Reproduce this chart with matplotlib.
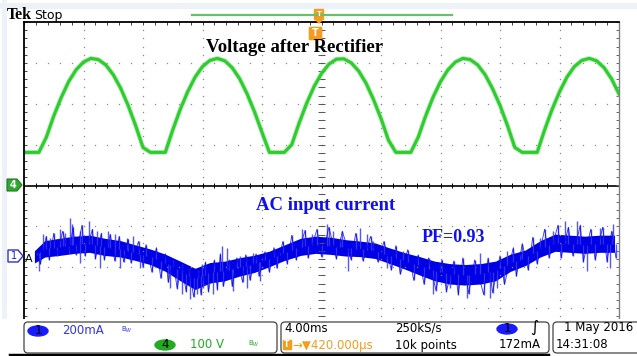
import numpy as np
import matplotlib.pyplot as plt
from matplotlib.patches import FancyBboxPatch, Rectangle, Polygon, Ellipse

# Scope settings: 10 x 8 divisions, 4 ms/div, ch1 200 mA/div, ch4 100 V/div
ms_per_div = 4.0
v_per_div = 100.0
ma_per_div = 200.0
ch4_pos = 0.0     # divisions
ch1_pos = -1.72   # divisions

# Ch4: voltage after the rectifier, one sample every 0.5 ms
v_t = np.arange(-20.0, 20.01, 0.5)
v_volts = [81, 81, 81, 118, 170, 215, 254, 283, 302, 311, 308, 295, 271, 238, 196, 147, 93, 81,
           81, 81, 136, 186, 229, 265, 291, 306, 311, 305, 288, 261, 224, 180, 130, 81,
           81, 81, 100, 153, 201, 242, 274, 297, 309, 310, 300, 280, 250, 210, 164, 111, 81,
           81, 81, 118, 170, 216, 254, 283, 302, 311, 308, 295, 271, 237, 196, 147, 93, 81,
           81, 81, 136, 186, 229, 265, 291, 306, 311, 305, 288, 261, 224]

# Ch1: AC input current, dense band (mid value and half width) in mA
cur_t = [-19.3, -18.6, -17.6, -16.6, -15.6, -14.6, -13.5, -12.5, -11.5, -10.5,
         -9.5, -8.5, -7.5, -6.5, -5.5, -4.5, -3.5, -2.5, -1.4, -0.4,
         0.6, 1.6, 2.6, 3.6, 4.6, 5.6, 6.6, 7.6, 8.6, 9.6,
         10.7, 11.7, 12.7, 13.7, 14.7, 15.7, 16.7, 17.7, 18.7, 19.7]
cur_mid = [-5, 34, 44, 54, 59, 44, 34, 15, -5, -34,
           -74, -113, -83, -74, -54, -39, -15, 15, 44, 54,
           49, 39, 34, 25, 0, -25, -49, -74, -88, -93,
           -88, -74, -34, -10, 34, 64, 59, 54, 59, 59]
cur_half = [30, 40, 42, 42, 42, 42, 40, 38, 38, 42,
            48, 52, 50, 48, 45, 42, 38, 38, 42, 42,
            42, 40, 38, 38, 38, 40, 45, 48, 50, 50,
            50, 48, 42, 38, 40, 42, 42, 42, 42, 42]

# Ch1 large noise spikes: (time ms, peak mA)
spike_up_t = [-18.72, -18.25, -17.58, -17.24, -16.91, -16.77, -16.24, -15.63, -15.09, -14.35,
              -13.88, -13.08, -12.67, -8.03, -6.69, -6.35, -5.48, -4.60, -2.79, -1.31,
              -0.64, 0.37, 0.77, 1.24, 2.59, 3.06, 3.46, 5.48, 7.97, 10.66,
              12.47, 13.35, 14.69, 15.56, 16.37, 17.18, 18.72, 19.60]
spike_up_ma = [108, 88, 132, 113, 186, 157, 123, 172, 123, 123,
               108, 88, 98, -39, 49, 39, 0, 15, 15, 132,
               108, 157, 123, 88, 137, 108, 74, 25, -39, 15,
               25, 10, 88, 123, 172, 172, 137, 157]
spike_dn_t = [-18.99, -16.24, -14.89, -13.55, -12.20, -10.18, -9.38, -8.84, -8.37, -7.97,
              -7.30, -5.95, -5.01, -4.13, 1.78, 4.40, 7.50, 8.64, 9.78, 11.33,
              11.80, 17.85, 19.40]
spike_dn_ma = [-74, -34, -59, -59, -59, -157, -186, -211, -186, -157,
               -186, -172, -157, -123, -74, -59, -186, -157, -206, -206,
               -157, -74, -59]

# Ch1 smaller excursions around the band
fuzz_t = [-19.1, -18.9, -18.5, -18.3, -18.0, -17.8, -17.4, -17.0, -16.7, -16.5,
          -16.1, -15.9, -15.4, -15.2, -14.8, -14.6, -14.2, -13.9, -13.6, -13.3,
          -13.0, -12.8, -12.3, -12.0, -11.8, -11.4, -11.1, -10.8, -10.5, -10.3,
          -10.0, -9.7, -9.4, -9.1, -8.9, -8.6, -8.3, -8.1, -7.8, -7.6,
          -7.2, -7.0, -6.8, -6.6, -6.2, -6.0, -5.7, -5.3, -5.1, -4.8,
          -4.4, -4.2, -3.8, -3.5, -3.2, -3.0, -2.6, -2.3, -2.0, -1.7,
          -1.1, -0.9, -0.3, 0.0, 0.5, 1.0, 1.4, 2.0, 2.3, 2.8,
          3.3, 3.8, 4.2, 4.7, 5.0, 5.3, 5.8, 6.2, 6.5, 6.9,
          7.2, 7.7, 8.1, 8.4, 8.9, 9.2, 9.5, 9.9, 10.3, 10.9,
          11.2, 11.5, 12.0, 12.3, 12.9, 13.1, 13.5, 13.9, 14.2, 14.5,
          15.0, 15.3, 15.9, 16.1, 16.6, 16.9, 17.4, 17.6, 18.1, 18.4,
          18.9, 19.2, 19.5, 19.8]
fuzz_ma = [20, -40, 95, -20, 110, 0, 120, 10, 140, 5,
           150, 0, 130, -15, 110, -20, 105, -25, 95, -30,
           80, -35, 70, -55, 55, -80, 40, -110, 10, -130,
           -20, -160, -40, -175, -60, -200, -70, -190, -30, -175,
           -20, -165, 10, -150, -20, -150, -10, -130, 5, -120,
           10, -100, 20, -80, 40, -60, 70, -40, 100, -20,
           125, -10, 130, -5, 140, -15, 120, -20, 110, -25,
           95, -30, 70, -70, 50, -90, 30, -120, 5, -140,
           -10, -170, -20, -175, -25, -190, -10, -185, -20, -190,
           -10, -180, 0, -140, 40, -100, 60, -70, 90, -40,
           130, -10, 150, -10, 140, 0, 150, -30, 130, -20,
           140, -30, 120, -10]

green = "#2ecc2e"
blue = "#0000e6"
spike_blue = "#3a3af5"

W, H = 637, 356
fig = plt.figure(figsize=(W / 100, H / 100), dpi=100)
fig.patch.set_facecolor("white")

# graticule area in pixels: x 24..619, y 22..349
x0, x1, y0, y1 = 24, 619, 22, 349
ax = fig.add_axes([x0 / W, 1 - y1 / H, (x1 - x0) / W, (y1 - y0) / H])
ax.set_xlim(-5 * ms_per_div, 5 * ms_per_div)
ax.set_ylim(-4, 4)
ax.set_xticks([])
ax.set_yticks([])
for side in ["left", "top"]:
    ax.spines[side].set_color("black")
    ax.spines[side].set_linewidth(1.3)
ax.spines["right"].set_color("#808080")
ax.spines["right"].set_linewidth(1.0)
ax.spines["bottom"].set_visible(False)

dot = dict(ls="none", marker="s", ms=0.9, mew=0, color="#8a8a8a")
minor_x = np.arange(-20, 20.01, 0.8)
minor_y = np.arange(-4, 4.01, 0.2)
for k in range(-4, 5):
    ax.plot(np.full(minor_y.size, k * ms_per_div), minor_y, **dot)
for k in [-3, -2, -1, 1, 2, 3]:
    ax.plot(minor_x, np.full(minor_x.size, k), **dot)

# centre line and tick marks
ax.axhline(0, color="black", lw=1.2)
ax.vlines(minor_x, -0.07, 0.07, color="black", lw=0.7)
ax.hlines(minor_y, -0.22, 0.22, color="#555555", lw=0.7)
ax.vlines(minor_x, 4 - 0.08, 4, color="#444444", lw=0.7)
ax.hlines(minor_y, -20, -20 + 0.22, color="#444444", lw=0.7)
ax.hlines(minor_y, 20 - 0.22, 20, color="#666666", lw=0.7)

# ch4 trace
v_div = np.array(v_volts) / v_per_div + ch4_pos
ax.plot(v_t, v_div, color="#7ee07e", lw=3.4, alpha=0.6, solid_joinstyle="round")
ax.plot(v_t, v_div, color=green, lw=2.2, solid_joinstyle="round")

# ch1 trace: band, excursions from the band centre, and the zigzag between them
mid = np.array(cur_mid) / ma_per_div + ch1_pos
half = np.array(cur_half) / ma_per_div
ax.fill_between(cur_t, mid - half, mid + half, color=blue, lw=0)
for ts, vals in [(spike_up_t, spike_up_ma), (spike_dn_t, spike_dn_ma), (fuzz_t, fuzz_ma)]:
    base = np.interp(ts, cur_t, mid)
    ax.vlines(ts, base, np.array(vals) / ma_per_div + ch1_pos, color=spike_blue, lw=1.0, alpha=0.85)
ax.plot(fuzz_t, np.array(fuzz_ma) / ma_per_div + ch1_pos, color=blue, lw=0.6, alpha=0.8)

# overlay in pixel coordinates for labels and readouts
ov = fig.add_axes([0, 0, 1, 1])
ov.set_xlim(0, W)
ov.set_ylim(H, 0)
ov.axis("off")

ov.add_patch(Rectangle((0, 3), W, 6, color="#edf1f8", lw=0))
ov.add_patch(Rectangle((2, 0), 5, H, color="#edf1f8", lw=0))
ov.text(7, 15, "Tek", fontsize=11.5, fontweight="bold", family="Liberation Serif", va="center")
ov.text(34, 15.5, "Stop", fontsize=9, family="DejaVu Sans", va="center")
ov.plot([192, 452], [15, 15], color="#66c266", lw=1.6)

# trigger markers
ov.add_patch(FancyBboxPatch((315, 10), 8, 9, boxstyle="round,pad=0.5", color="#f39c1e"))
ov.text(319, 14.5, "T", color="white", fontsize=5, fontweight="bold", ha="center", va="center")
ov.add_patch(Polygon([[315, 19], [323, 19], [319, 23]], color="#f39c1e"))
ov.add_patch(FancyBboxPatch((310, 28), 11, 11, boxstyle="round,pad=0.6", color="#f39c1e"))
ov.text(315.5, 33.5, "T", color="white", fontsize=7, fontweight="bold", ha="center", va="center")

serif = "Liberation Serif"
ov.text(295, 47, "Voltage after Rectifier", fontsize=13.5, fontweight="bold", family=serif,
        ha="center", va="center")
ov.text(326, 205, "AC input current", fontsize=13.5, fontweight="bold", family=serif,
        color="#1010ee", ha="center", va="center")
ov.text(453, 238, "PF=0.93", fontsize=13, fontweight="bold", family=serif,
        color="#1010ee", ha="center", va="center")

# channel ground markers
ov.add_patch(Polygon([[7, 179], [17, 179], [22, 185], [17, 191], [7, 191]], closed=True,
                     facecolor="#2fa82f", edgecolor="#1d7a1d", lw=0.8))
ov.text(13, 185, "4", color="white", fontsize=7, fontweight="bold", ha="center", va="center")
ov.add_patch(Polygon([[8, 250], [18, 250], [23, 256], [18, 262], [8, 262]], closed=True,
                     facecolor="white", edgecolor="#3030d0", lw=1.0))
ov.text(14, 256, "1", color="#2020c0", fontsize=7, ha="center", va="center")
ov.text(29, 259, "A", color="black", fontsize=8, ha="center", va="center")

# readout panels
ov.add_patch(Rectangle((0, 319), W, H - 319, color="white", lw=0, zorder=2))
panel = dict(boxstyle="round,pad=0,rounding_size=4", facecolor="white", edgecolor="#444444",
             lw=0.9, zorder=3)
ov.add_patch(FancyBboxPatch((24, 322), 253, 31, **panel))
ov.add_patch(FancyBboxPatch((281, 322), 268, 31, **panel))
ov.add_patch(FancyBboxPatch((553, 322), 90, 31, **panel))
ov.plot([10, 548], [355, 355], color="black", lw=2.5, zorder=4)

txt = dict(fontsize=8.5, family="DejaVu Sans", va="center", zorder=5)
ov.add_patch(Ellipse((38, 331), 20, 10, color="#1a1aff", zorder=4))
ov.text(38, 331, "1", color="black", ha="center", **txt)
ov.text(62, 331, "200mA", color="#3333ee", **txt)
ov.text(121, 330, "B$_W$", color="#3333ee", fontsize=5, va="center", zorder=5)
ov.add_patch(Ellipse((165, 345), 20, 10, color="#22aa22", zorder=4))
ov.text(165, 345, "4", color="black", ha="center", **txt)
ov.text(190, 345, "100 V", color="#22aa22", **txt)
ov.text(248, 344, "B$_W$", color="#22aa22", fontsize=5, va="center", zorder=5)

ov.text(284, 328, "4.00ms", color="black", **txt)
ov.text(395, 328, "250kS/s", color="black", **txt)
ov.add_patch(Ellipse((507, 329), 20, 10, color="#1a1aff", zorder=4))
ov.text(507, 329, "1", color="black", ha="center", **txt)
ov.text(530, 328, "$\\int$", color="black", fontsize=8, va="center", zorder=5)
ov.add_patch(Rectangle((283, 340), 8, 9, color="#f39c1e", zorder=4))
ov.text(287, 344.5, "T", color="white", fontsize=5.5, fontweight="bold", ha="center",
        va="center", zorder=5)
ov.text(292, 345, "\u2192\u25bc420.000\u00b5s", color="#f39c1e", **txt)
ov.text(395, 345, "10k points", color="black", **txt)
ov.text(499, 345, "172mA", color="black", **txt)

ov.text(564, 328, "1 May 2016", color="black", **txt)
ov.text(556, 345, "14:31:08", color="black", **txt)

fig.savefig("out.png", dpi=100)
